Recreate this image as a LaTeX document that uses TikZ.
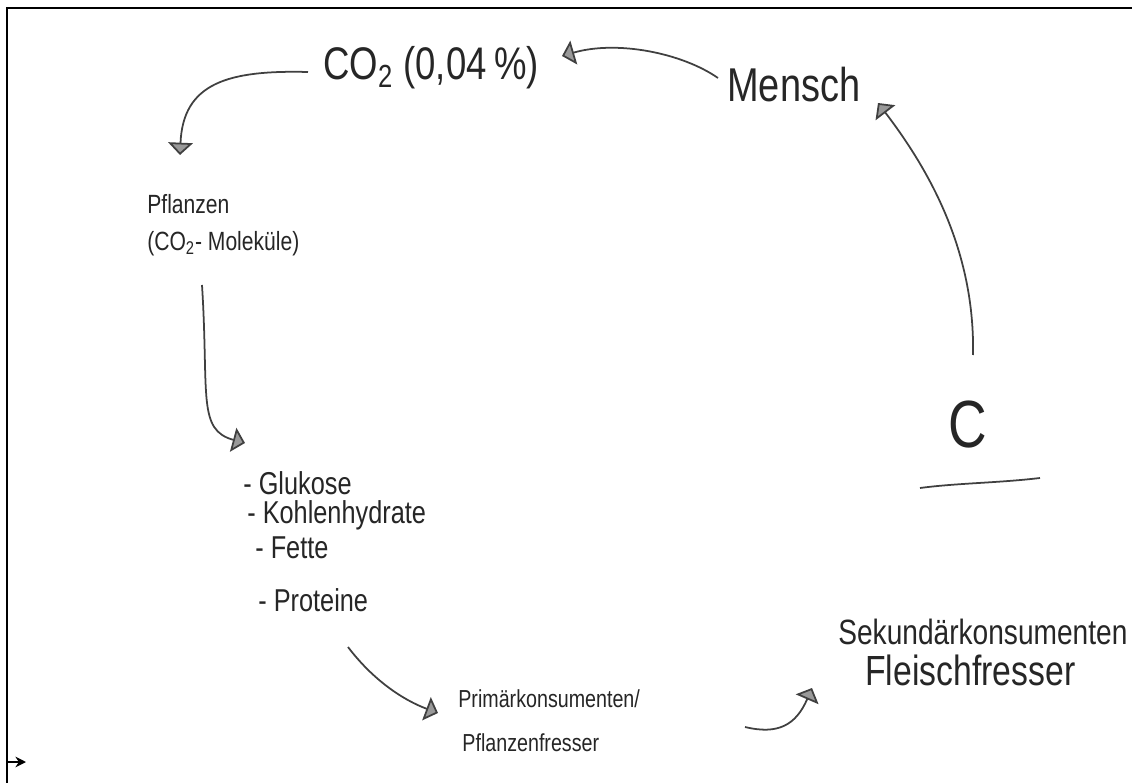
\documentclass[tikz,border=0pt]{standalone}
\usepackage{fontspec}
\setmainfont{Liberation Sans}
\newfontfamily\hand[FakeStretch=0.8]{Liberation Sans}
\usetikzlibrary{arrows.meta,calc}

\begin{document}
\begin{tikzpicture}[x=0.02cm,y=-0.02cm,
  lbl/.style={anchor=west, inner sep=0pt, text=black!85, align=left},
  flow/.style={draw=black!75, line width=1pt,
    -{Triangle[length=7pt,width=14pt,fill=black!40]}},
  pen/.style={draw=black!75, line width=1pt},
]
\useasboundingbox (0,0) rectangle (1132,783);
\fill[white] (0,0) rectangle (1132,783);

% page frame
\draw[line width=1.4pt] (7,783) -- (7,8) -- (1132,8);
\coordinate (mk1) at (7,762);
\coordinate (mk2) at (26,762);
\draw[line width=1pt,-{Stealth[length=6pt,width=6pt]}] (mk1) -- (mk2);

% labels of the carbon cycle
\node[lbl, font=\hand\fontsize{26}{28}\selectfont] (co2) at (323,68) {CO\textsubscript{2} (0,04\,\%)};
\node[lbl, font=\hand\fontsize{15}{21}\selectfont] (pfl) at (147,225) {Pflanzen\\(CO\textsubscript{2}- Moleküle)};
\node[lbl, font=\hand\fontsize{18}{20}\selectfont] (gl) at (243,483) {- Glukose};
\node[lbl, font=\hand\fontsize{18}{20}\selectfont] (kh) at (247,515) {- Kohlenhydrate};
\node[lbl, font=\hand\fontsize{18}{20}\selectfont] (fe) at (255,548) {- Fette};
\node[lbl, font=\hand\fontsize{18}{20}\selectfont] (pr) at (258,600) {- Proteine};
\node[lbl, font=\hand\fontsize{14}{25}\selectfont] (prim) at (458,721) {Primärkonsumenten/\\\,Pflanzenfresser};
\node[lbl, font=\hand\fontsize{20}{22}\selectfont] (sk1) at (838,632) {Sekundärkonsumenten};
\node[lbl, font=\hand\fontsize{24}{26}\selectfont] (sk2) at (865,670) {Fleischfresser};
\node[lbl, font=\hand\fontsize{38}{40}\selectfont] (c) at (948,425) {C};
\node[lbl, font=\hand\fontsize{27}{29}\selectfont] (men) at (727,85) {Mensch};

% connectors
\draw[flow] ($(co2.west)+(-15,4)$) .. controls ($(co2.west)+(-95,2)$) and ($(co2.west)+(-140,15)$) .. ($(pfl.west)+(33,-70)$);
\draw[flow] ($(pfl.west)+(55,60)$) .. controls ($(pfl.west)+(62,170)$) and ($(pfl.west)+(50,205)$) .. ($(gl.west)+(2,-40)$);
\draw[flow] ($(pr.west)+(90,47)$) .. controls ($(pr.west)+(115,80)$) and ($(pr.west)+(145,100)$) .. ($(prim.west)+(-20,-8)$);
\draw[flow] ($(prim.west)+(287,6)$) .. controls ($(prim.west)+(320,14)$) and ($(prim.west)+(338,4)$) .. ($(sk2.west)+(-53,18)$);
\draw[flow] ($(c.west)+(25,-70)$) .. controls ($(c.west)+(27,-170)$) and ($(c.west)+(-15,-250)$) .. ($(men.west)+(151,18)$);
\draw[flow] ($(men.west)+(-9,-7)$) .. controls ($(men.west)+(-45,-32)$) and ($(men.west)+(-110,-45)$) .. ($(co2.west)+(239,-12)$);

% stroke under the C
\draw[pen] ($(c.west)+(-28,63)$) .. controls ($(c.west)+(10,58)$) and ($(c.west)+(50,58)$) .. ($(c.west)+(92,53)$);
\end{tikzpicture}
\end{document}
